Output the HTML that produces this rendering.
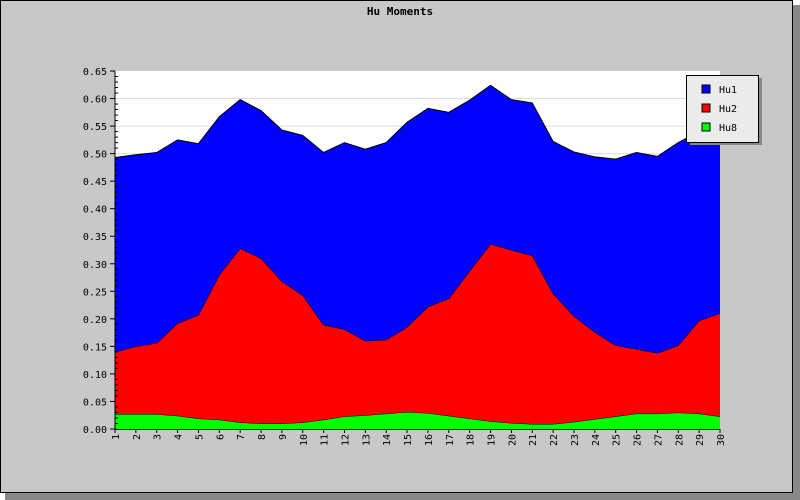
<!DOCTYPE html>
<html><head><meta charset="utf-8"><style>
body{margin:0;background:#fff;}
svg{display:block;font-family:"DejaVu Sans Mono","Liberation Mono",monospace;}
</style></head><body>
<svg id="c" width="800" height="500">
<rect x="5" y="5" width="795" height="495" fill="#888"/>
<rect x="0.5" y="0.5" width="792" height="492" fill="#c8c8c8" stroke="#000"/>
<text x="400" y="15" text-anchor="middle" font-size="11" font-weight="bold">Hu Moments</text>
<rect x="115" y="71" width="605" height="358" fill="#fff"/>
<g id="grid"></g><g id="areas"></g><g id="axes"></g>
<g>
<rect x="690" y="78" width="72" height="67" fill="#888"/>
<rect x="686.5" y="75.5" width="72" height="67" fill="#ebebeb" stroke="#000"/>
<rect x="702" y="85" width="8" height="8" fill="#0000ff" stroke="#000"/>
<text x="719" y="93" font-size="10">Hu1</text>
<rect x="702" y="104" width="8" height="8" fill="#ff0000" stroke="#000"/>
<text x="719" y="112" font-size="10">Hu2</text>
<rect x="702" y="123" width="8" height="8" fill="#00ff00" stroke="#000"/>
<text x="719" y="131" font-size="10">Hu8</text>
</g>
</svg>
<script>
const categories=[1,2,3,4,5,6,7,8,9,10,11,12,13,14,15,16,17,18,19,20,21,22,23,24,25,26,27,28,29,30];
const hu1=[.353,.348,.346,.333,.311,.287,.270,.268,.275,.290,.313,.339,.348,.358,.372,.360,.338,.310,.288,.273,.277,.276,.298,.318,.338,.357,.357,.368,.343,.335];
const hu2=[.113,.123,.129,.168,.188,.263,.316,.300,.258,.231,.172,.158,.135,.134,.154,.193,.213,.268,.322,.314,.306,.237,.192,.158,.129,.117,.110,.122,.169,.187];
const hu8=[.027,.027,.027,.024,.019,.017,.012,.010,.010,.012,.017,.023,.025,.028,.031,.029,.024,.019,.014,.011,.009,.009,.013,.018,.023,.028,.028,.030,.028,.023];
const yTicks=[0,.05,.1,.15,.2,.25,.3,.35,.4,.45,.5,.55,.6,.65];
const NS='http://www.w3.org/2000/svg';
const X0=115,X1=720,Y0=429,Y1=71,YMAX=.65;
const x=i=>X0+(X1-X0)*i/(categories.length-1);
const y=v=>Y0-(Y0-Y1)*v/YMAX;
function mk(t,a,p){const e=document.createElementNS(NS,t);for(const k in a)e.setAttribute(k,a[k]);p.appendChild(e);return e;}
const grid=document.getElementById('grid'),areas=document.getElementById('areas'),axes=document.getElementById('axes');
yTicks.forEach(v=>{if(v>0&&v<YMAX){const g=mk('line',{x1:X0,x2:X1,y1:y(v),y2:y(v),stroke:'#ddd'},grid);

}});
const series=[[hu8,'#00ff00','area-hu8'],[hu2,'#ff0000','area-hu2'],[hu1,'#0000ff','area-hu1']];
let base=categories.map(()=>0);
series.forEach(([d,c,n])=>{const top=base.map((b,i)=>b+d[i]);
let pts=top.map((v,i)=>x(i)+','+y(v));
for(let i=base.length-1;i>=0;i--)pts.push(x(i)+','+y(base[i]));
const p=mk('polygon',{points:pts.join(' '),fill:c},areas);


const l=mk('polyline',{points:top.map((v,i)=>x(i)+','+y(v)).join(' '),fill:'none',stroke:'#000','stroke-width':1},areas);


base=top;});
const ya=mk('line',{x1:X0,x2:X0,y1:Y1,y2:Y0,stroke:'#000'},axes);


const xa=mk('line',{x1:X0,x2:X1,y1:Y0+.5,y2:Y0+.5,stroke:'#000'},axes);


yTicks.forEach((v,k)=>{const yy=y(v);
mk('line',{x1:X0-5,x2:X0,y1:yy,y2:yy,stroke:'#000'},axes);
if(k<yTicks.length-1){for(let m=1;m<5;m++){const ym=y(v+.01*m);mk('line',{x1:X0,x2:X0+3,y1:ym,y2:ym,stroke:'#000'},axes);}}
const t=mk('text',{x:X0-8,y:yy+4,'text-anchor':'end','font-size':10},axes);t.textContent=v.toFixed(2);

});
categories.forEach((c,i)=>{const xx=x(i);
mk('line',{x1:xx,x2:xx,y1:Y0,y2:Y0+4,stroke:'#000'},axes);
const t=mk('text',{x:0,y:0,'text-anchor':'end','font-size':10,transform:`translate(${xx+4},${Y0+5}) rotate(-90)`},axes);t.textContent=c;

});
</script>
</body></html>
